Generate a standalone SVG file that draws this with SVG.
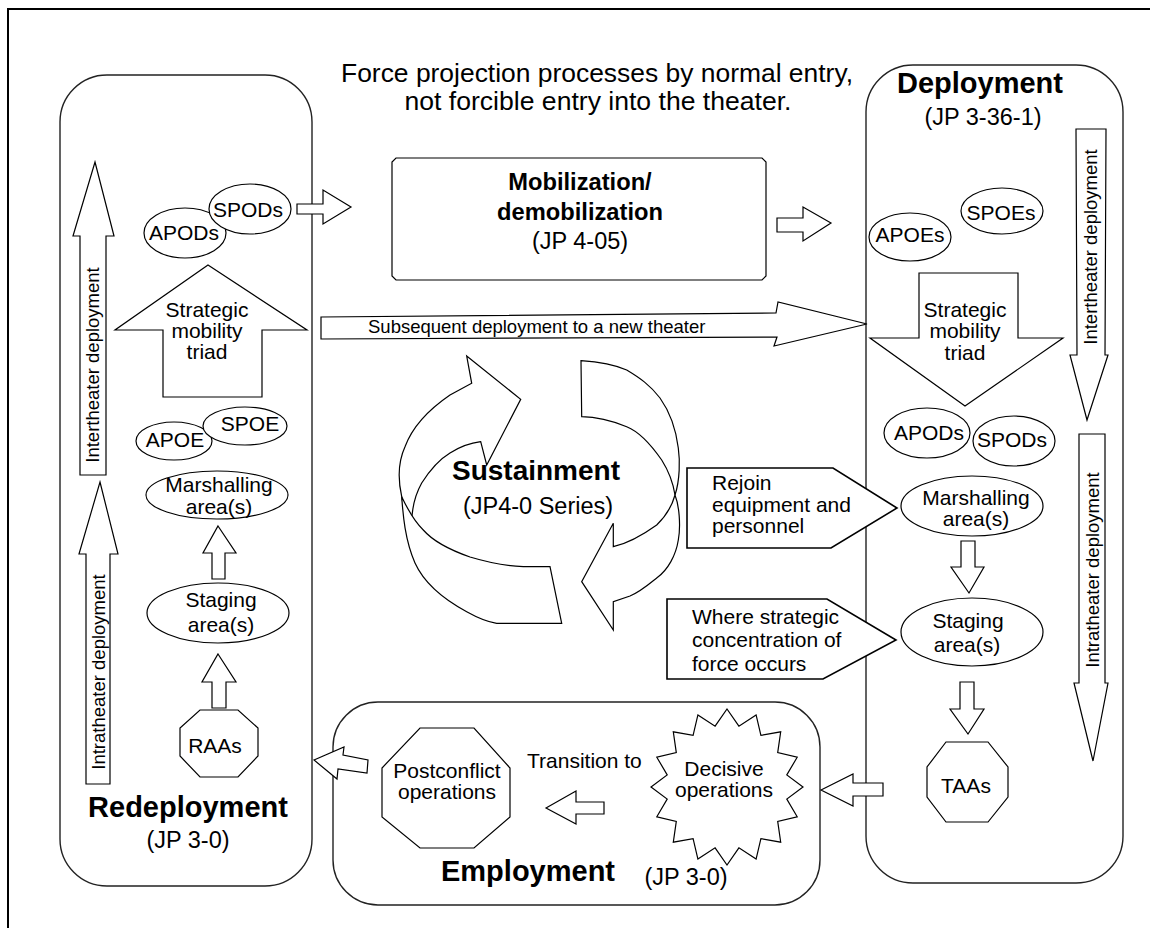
<svg xmlns="http://www.w3.org/2000/svg" width="1150" height="928" viewBox="0 0 1150 928">
<style>
.sh{fill:#fff;stroke:#000;stroke-width:1.2;stroke-linejoin:miter}
.pn{fill:#fff;stroke:#222;stroke-width:1.4}
.co{fill:#fff;stroke:#000;stroke-width:1.6}
text{font-family:"Liberation Sans",Arial,Helvetica,sans-serif;fill:#000}
.t{font-size:21px}
.c{text-anchor:middle}
.sub{font-size:23.5px;text-anchor:middle}
.big{font-size:29px;font-weight:bold;text-anchor:middle}
.sm{font-size:18.5px}
</style>
<rect x="0" y="0" width="1150" height="928" fill="#fff"/>
<rect x="8" y="9" width="1160" height="940" fill="none" stroke="#000" stroke-width="2"/>

<g id="title">
<text x="597" y="82" font-size="25" text-anchor="middle" textLength="512" lengthAdjust="spacingAndGlyphs">Force projection processes by normal entry,</text>
<text x="598" y="110" font-size="25" text-anchor="middle" textLength="387" lengthAdjust="spacingAndGlyphs">not forcible entry into the theater.</text>
</g>

<g id="redeployment">
<rect class="pn" x="60" y="75" width="252" height="811" rx="47" ry="47"/>
<text class="big" x="188" y="817">Redeployment</text>
<text class="sub" x="188" y="848">(JP 3-0)</text>
</g>

<g id="deployment">
<rect class="pn" x="866" y="65" width="257" height="818" rx="47" ry="47"/>
<text class="big" x="980" y="93">Deployment</text>
<text class="sub" x="983" y="125">(JP 3-36-1)</text>
</g>

<g id="employment">
<rect class="pn" x="333" y="702" width="487" height="203" rx="45" ry="45"/>
<text class="big" x="528" y="881">Employment</text>
<text class="sub" x="686" y="885">(JP 3-0)</text>
</g>

<g id="mobilization">
<path class="sh" d="M396,158 L762,158 L766,162 L766,276 L762,280 L396,280 L392,276 L392,162 Z"/>
<text x="580" y="190" font-size="23.7" font-weight="bold" text-anchor="middle">Mobilization/</text>
<text x="580" y="220" font-size="23.7" font-weight="bold" text-anchor="middle">demobilization</text>
<text class="sub" x="580" y="249">(JP 4-05)</text>
</g>

<g id="left-intertheater">
<polygon class="sh" points="95,162 114,236 106,236 106,475 80,475 80,236 73,236"/>
<text class="sm c" transform="translate(99,365) rotate(-90)">Intertheater deployment</text>
</g>
<g id="left-intratheater">
<polygon class="sh" points="100,482 118,554 110,554 110,784 86,784 86,554 79,554"/>
<text class="sm c" transform="translate(104.5,672) rotate(-90)">Intratheater deployment</text>
</g>

<g id="left-apods">
<ellipse class="sh" cx="185" cy="233" rx="41" ry="25"/>
<text class="t c" x="184" y="240">APODs</text>
</g>
<g id="left-spods">
<ellipse class="sh" cx="250" cy="209" rx="41" ry="25"/>
<text class="t c" x="248" y="217">SPODs</text>
</g>

<g id="left-triad">
<polygon class="sh" points="208,265 307,330 262,330 262,397 163,397 163,330 115,330"/>
<text class="t c" x="207" y="317">Strategic</text>
<text class="t c" x="207" y="338">mobility</text>
<text class="t c" x="207" y="359">triad</text>
</g>

<g id="left-apoe">
<ellipse class="sh" cx="174" cy="441" rx="38" ry="19"/>
<text class="t c" x="175" y="447">APOE</text>
</g>
<g id="left-spoe">
<ellipse class="sh" cx="245" cy="426" rx="42" ry="19"/>
<text class="t c" x="250" y="431">SPOE</text>
</g>

<g id="left-marshalling">
<ellipse class="sh" cx="217" cy="495" rx="71" ry="24"/>
<text class="t c" x="219" y="492">Marshalling</text>
<text class="t c" x="219" y="514">area(s)</text>
</g>
<g id="left-staging">
<ellipse class="sh" cx="218" cy="613" rx="71" ry="30"/>
<text class="t c" x="221" y="607">Staging</text>
<text class="t c" x="221" y="632">area(s)</text>
</g>
<g id="left-raas">
<polygon class="sh" points="200,710 238,710 258,728 258,756 238,777 200,777 180,756 180,728"/>
<text class="t c" x="215" y="753">RAAs</text>
</g>

<g id="right-intertheater">
<polygon class="sh" points="1076,129 1106,129 1105,355 1108,355 1087,420 1070,355 1077,355"/>
<text class="sm c" transform="translate(1097,247) rotate(-90)">Intertheater deployment</text>
</g>
<g id="right-intratheater">
<polygon class="sh" points="1079,434 1105,434 1105,683 1108,683 1093,761 1074,683 1079,683"/>
<text class="sm c" transform="translate(1098.5,570) rotate(-90)">Intratheater deployment</text>
</g>

<g id="right-apoes">
<ellipse class="sh" cx="910" cy="237" rx="41" ry="24"/>
<text class="t c" x="910" y="242">APOEs</text>
</g>
<g id="right-spoes">
<ellipse class="sh" cx="1002" cy="211" rx="41" ry="23"/>
<text class="t c" x="1001" y="220">SPOEs</text>
</g>
<g id="right-triad">
<polygon class="sh" points="919,273 1018,273 1018,338 1063,338 965,406 870,338 919,338"/>
<text class="t c" x="965" y="317">Strategic</text>
<text class="t c" x="965" y="338">mobility</text>
<text class="t c" x="965" y="360">triad</text>
</g>
<g id="right-apods">
<ellipse class="sh" cx="927" cy="433" rx="43" ry="25"/>
<text class="t c" x="929" y="440">APODs</text>
</g>
<g id="right-spods">
<ellipse class="sh" cx="1014" cy="441" rx="41" ry="25"/>
<text class="t c" x="1012" y="447">SPODs</text>
</g>
<g id="right-marshalling">
<ellipse class="sh" cx="972" cy="506" rx="71" ry="30"/>
<text class="t c" x="976" y="505">Marshalling</text>
<text class="t c" x="976" y="526">area(s)</text>
</g>
<g id="right-staging">
<ellipse class="sh" cx="972" cy="632" rx="71" ry="34"/>
<text class="t c" x="968" y="628">Staging</text>
<text class="t c" x="967" y="652">area(s)</text>
</g>
<g id="right-taas">
<polygon class="sh" points="946,742 988,742 1008,767 1008,797 988,822 946,822 927,797 927,767"/>
<text class="t c" x="966" y="793">TAAs</text>
</g>

<g id="sustainment">
<path class="sh" d="M401.7,496.7 C398,480 398,462 405,446.7 C412,428 428,410 450,395 L471.7,383.3 L466.7,356 L520.7,399.3 L486.7,465 L480.7,441.7 C470,443 458,448 450,453 C440,459 430,470 421.7,483 C415,495 412,507 411.7,522 L404,510 Z"/>
<path class="sh" d="M401.7,496.7 C403,515 405,540 415,563 C425,585 445,600 466.7,611.7 C478,618 488,622 496.7,623.3 L561.7,623.3 L550,566.7 L523.3,566.7 C505,566 490,563 470,557 C450,550 432,540 423.3,530 C415,522 408,510 401.7,496.7 Z"/>
<path class="sh" d="M675,495 C679,505 681,525 678.3,540 C676,555 668,570 656.7,578 C648,585 640,592 630,596 L613.3,601.7 L613.3,630 L581.7,581.7 L613.3,523.3 L613.3,546.7 C625,544 640,537 656.7,525 C666,516 672,506 675,495 Z"/>
<path class="sh" d="M675,495 C680,480 680,460 678.3,448 C676,430 670,412 660,398 C650,385 640,378 626.7,370 C615,365 600,362 581,360.7 L581.7,416.7 C595,417 610,420 626.7,426.7 C640,432 652,446 661.7,460 C668,470 673,482 675,495 Z"/>
<text x="536" y="480" font-size="28" font-weight="bold" text-anchor="middle">Sustainment</text>
<text class="sub" x="538" y="514">(JP4-0 Series)</text>
</g>

<g id="rejoin-callout">
<polygon class="co" points="687,468 833,468 897,508 831,548 687,548"/>
<text class="t" x="712" y="490">Rejoin</text>
<text class="t" x="712" y="512">equipment and</text>
<text class="t" x="712" y="533">personnel</text>
</g>
<g id="where-callout">
<polygon class="co" points="667,599 827,599 896,640 823,679 667,679"/>
<text class="t" x="692" y="624">Where strategic</text>
<text class="t" x="692" y="647">concentration of</text>
<text class="t" x="692" y="671">force occurs</text>
</g>

<g id="postconflict">
<polygon class="sh" points="420,728 474,728 510,768 510,817 474,848 420,848 382,817 382,768"/>
<text class="t c" x="447" y="778">Postconflict</text>
<text class="t c" x="447" y="799">operations</text>
</g>
<g id="decisive">
<polygon class="sh" points="727,709 738.9,726.2 756.1,714.9 760.9,735.4 780.7,731.8 777.7,752.6 797.2,757.2 786.8,774.9 803,787 786.8,799.1 797.2,816.8 777.7,821.4 780.7,842.2 760.9,838.6 756.1,859.1 738.9,847.8 727,865 715.1,847.8 697.9,859.1 693.1,838.6 673.3,842.2 676.3,821.4 656.8,816.8 667.2,799.1 651,787 667.2,774.9 656.8,757.2 676.3,752.6 673.3,731.8 693.1,735.4 697.9,714.9 715.1,726.2"/>
<text class="t c" x="724" y="776">Decisive</text>
<text class="t c" x="724" y="797">operations</text>
</g>
<g id="transition-label">
<text class="t" x="527" y="768">Transition to</text>
</g>

<g id="connectors">
<polygon class="sh" points="297,204 323,204 323,190 351,207 323,224 323,214 297,214"/>
<polygon class="sh" points="777,218 803,218 803,207 831,223 803,241 803,232 777,232"/>
<polygon class="sh" points="321,317 776,313 778,302 867,324 774,346 777,337 321,339"/>
<text class="sm" x="368" y="333">Subsequent deployment to a new theater</text>
<polygon class="sh" points="218,526 236,553 225,553 225,579 212,579 212,553 203,553"/>
<polygon class="sh" points="218,654 236,682 226,682 226,708 212,708 212,682 202,682"/>
<polygon class="sh" points="961,541 975,541 975,567 984,567 969,593 951,567 961,567"/>
<polygon class="sh" points="960,682 974,682 974,709 984,709 968,734 950,709 960,709"/>
<polygon class="sh" points="821,790 853,774 853,783 883,783 883,796 853,796 853,806"/>
<polygon class="sh" points="546,808 576,791 576,802 604,802 604,814 576,814 576,824"/>
<polygon class="sh" points="314,760 344,747 343,755 368,760 367,773 338,769 337,779"/>
</g>
</svg>
